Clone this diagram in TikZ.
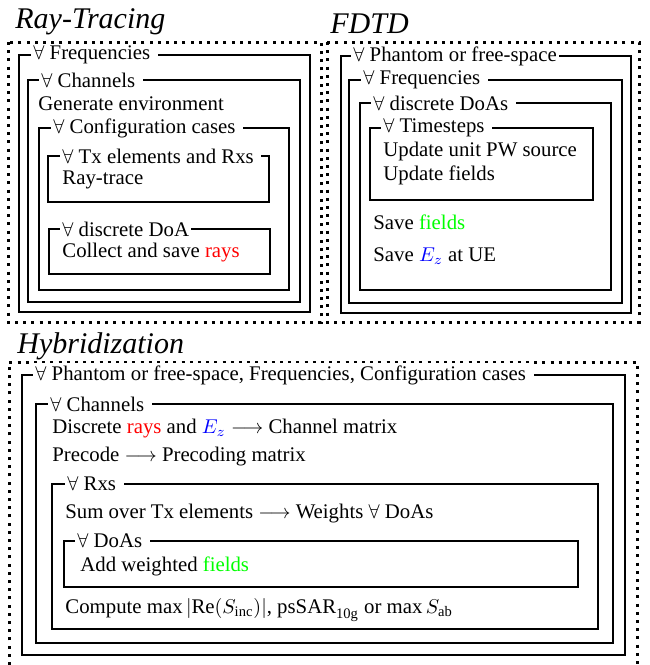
\documentclass[tikz,border=0pt]{standalone}
\usepackage{amsmath}
\usepackage{fontspec}
\setmainfont{Liberation Serif}
\usepackage{xcolor}
\usetikzlibrary{positioning}

\newcommand{\lblgap}{\kern2.8pt}

\tikzset{
  zone/.style={line width=1.5pt, dash pattern=on 1.5pt off 2.6pt},
  loopbox/.style={line width=1pt},
  looplbl/.style={fill=white, inner sep=1pt, anchor=west},
  bodytxt/.style={inner sep=0pt, anchor=base west},
  heading/.style={inner sep=0pt, anchor=base west, font=\fontsize{15}{18}\selectfont\itshape}
}

\begin{document}
\begin{tikzpicture}[x=0.5pt, y=-0.5pt, font=\fontsize{10.4}{12.5}\selectfont]
  \useasboundingbox (0,0) rectangle (649,665);

  % Ray-tracing part (top left)
  \node[heading] (rtTitle) at (15,28) {Ray-Tracing};
  \draw[zone] (8,42) rectangle (321,322);
  \draw[loopbox] (19,55) rectangle (310,312);
  \node[looplbl] (rtFreq) at (31,55) {$\forall$ Frequencies\lblgap};
  \draw[loopbox] (28,80) rectangle (300,302);
  \node[looplbl] (rtChan) at (39,80) {$\forall$ Channels\lblgap};
  \node[bodytxt] (rtEnv) at (38,110) {Generate environment};
  \draw[loopbox] (39,128) rectangle (289,290);
  \node[looplbl] (rtConf) at (51,128) {$\forall$ Configuration cases\lblgap};
  \draw[loopbox] (48,156) rectangle (269,202);
  \node[looplbl] (rtTx) at (60,156) {$\forall$ Tx elements and Rxs\lblgap};
  \node[bodytxt] (rtTrace) at (62,184) {Ray-trace};
  \draw[loopbox] (49,229) rectangle (270,274);
  \node[looplbl] (rtDoa) at (60,229) {$\forall$ discrete DoA};
  \node[bodytxt] (rtSave) at (62,257) {Collect and save \textcolor{red}{rays}};

  % FDTD part (top right)
  \node[heading] (fdTitle) at (330,33) {FDTD};
  \draw[zone] (327,42) rectangle (639,322);
  \draw[loopbox] (341,56) rectangle (631,313);
  \node[looplbl] (fdPhan) at (351,56) {$\forall$ Phantom or free-space};
  \draw[loopbox] (349,80) rectangle (622,303);
  \node[looplbl] (fdFreq) at (361,80) {$\forall$ Frequencies\lblgap};
  \draw[loopbox] (360,103) rectangle (611,290);
  \node[looplbl] (fdDoas) at (371,103) {$\forall$ discrete DoAs\lblgap};
  \draw[loopbox] (370,128) rectangle (593,200);
  \node[looplbl] (fdTime) at (381,128) {$\forall$ Timesteps\lblgap};
  \node[bodytxt] (fdSrc) at (383,156) {Update unit PW source};
  \node[bodytxt] (fdUpd) at (383,180) {Update fields};
  \node[bodytxt] (fdFld) at (373,229) {Save \textcolor{green}{fields}};
  \node[bodytxt] (fdEz) at (373,261) {Save \textcolor{blue}{$E_z$} at UE};

  % Hybridization part (bottom)
  \node[heading] (hyTitle) at (17,353) {Hybridization};
  \draw[zone] (9,665) -- (9,362) -- (637,362) -- (637,665);
  \draw[loopbox] (22,375) rectangle (625,655);
  \node[looplbl] (hyAll) at (33,375) {$\forall$ Phantom or free-space, Frequencies, Configuration cases\lblgap};
  \draw[loopbox] (36,404) rectangle (613,643);
  \node[looplbl] (hyChan) at (48,404) {$\forall$ Channels\lblgap};
  \node[bodytxt] (hyMat) at (52,433) {Discrete \textcolor{red}{rays} and \textcolor{blue}{$E_z$} $\longrightarrow$ Channel matrix};
  \node[bodytxt] (hyPre) at (52,461) {Precode $\longrightarrow$ Precoding matrix};
  \draw[loopbox] (52,484) rectangle (598,629);
  \node[looplbl] (hyRxs) at (65,484) {$\forall$ Rxs\lblgap};
  \node[bodytxt] (hySum) at (65,518) {Sum over Tx elements $\longrightarrow$ Weights $\forall$ DoAs};
  \draw[loopbox] (64,541) rectangle (578,587);
  \node[looplbl] (hyDoas) at (75,541) {$\forall$ DoAs\lblgap};
  \node[bodytxt] (hyAdd) at (80,571) {Add weighted \textcolor{green}{fields}};
  \node[bodytxt] (hyOut) at (65,613) {Compute $\max|\mathrm{Re}(S_{\mathrm{inc}})|$, $\mathrm{psSAR}_{\mathrm{10g}}$ or $\max S_{\mathrm{ab}}$};
\end{tikzpicture}
\end{document}
